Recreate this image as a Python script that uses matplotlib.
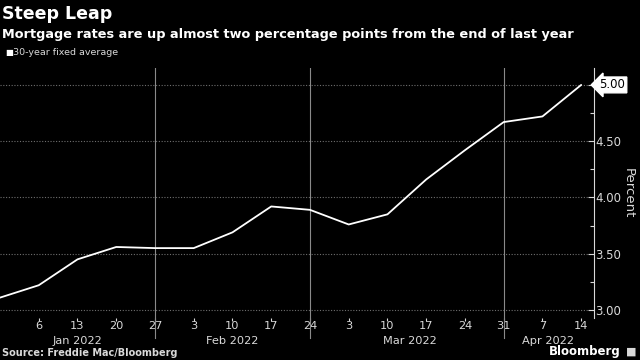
import matplotlib
matplotlib.use('Agg')
import matplotlib.pyplot as plt
import matplotlib.dates as mdates
import numpy as np
import datetime as dt

# weekly Freddie Mac 30-year fixed average
dates = ['2021-12-30', '2022-01-06', '2022-01-13', '2022-01-20', '2022-01-27',
         '2022-02-03', '2022-02-10', '2022-02-17', '2022-02-24', '2022-03-03',
         '2022-03-10', '2022-03-17', '2022-03-24', '2022-03-31', '2022-04-07',
         '2022-04-14']
rates = [3.11, 3.22, 3.45, 3.56, 3.55, 3.55, 3.69, 3.92, 3.89, 3.76, 3.85,
         4.16, 4.42, 4.67, 4.72, 5.00]
yticks = [3.00, 3.50, 4.00, 4.50, 5.00]
months = ['Jan 2022', 'Feb 2022', 'Mar 2022', 'Apr 2022']
month_centers = ['2022-01-13', '2022-02-10', '2022-03-14', '2022-04-08']
dividers = ['2022-01-27', '2022-02-24', '2022-03-31']

x = [dt.datetime.strptime(d, '%Y-%m-%d') for d in dates]
xn = mdates.date2num(x)

fg = '#d9d9d9'
grid = '#6e6e6e'

fig = plt.figure(figsize=(6.4, 3.6), dpi=100, facecolor='black')
ax = fig.add_axes([0.0, 0.117, 0.928, 0.694], facecolor='black')

ax.plot(xn, rates, color='white', lw=1.3, solid_capstyle='round')

ax.set_xlim(xn[0], xn[0] + 107.3)
ax.set_ylim(2.93, 5.15)

for s in ['top', 'left', 'bottom']:
    ax.spines[s].set_visible(False)
ax.spines['right'].set_color(fg)
ax.spines['right'].set_linewidth(0.8)

ax.yaxis.tick_right()
ax.set_yticks(yticks)
ax.set_yticklabels(['%.2f' % v for v in yticks])
ax.set_yticks(np.arange(3.25, 5.0, 0.5), minor=True)
ax.tick_params(axis='y', which='major', colors=fg, length=4, width=0.8,
               direction='in', pad=1, labelsize=8.5)
ax.tick_params(axis='y', which='minor', colors=fg, length=3, width=0.8,
               direction='in')
ax.get_yticklabels()[-1].set_visible(False)

for v in yticks:
    ax.axhline(v, color=grid, lw=0.8, ls=(0, (1, 1.5)), zorder=0)
for d in dividers:
    ax.axvline(mdates.datestr2num(d), color='#8a8a8a', lw=0.8, zorder=0)

# x ticks: weekly days
ax.set_xticks(xn[1:])
ax.set_xticklabels([str(d.day) for d in x[1:]])
ax.tick_params(axis='x', colors=fg, length=2, width=0.8, pad=0.5, labelsize=8.2)
for d in dividers:
    ax.plot([mdates.datestr2num(d)] * 2, [-0.08, 0], transform=ax.get_xaxis_transform(),
            color='#8a8a8a', lw=0.8, clip_on=False)
for m, c in zip(months, month_centers):
    ax.text(mdates.datestr2num(c), -0.072, m, transform=ax.get_xaxis_transform(),
            ha='center', va='top', color=fg, fontsize=8.2)

# last value tag
ax.annotate('%.2f' % rates[-1], xy=(1.0, rates[-1]), xycoords=('axes fraction', 'data'),
            xytext=(4, 0), textcoords='offset points', ha='left', va='center',
            color='black', fontsize=8.5,
            bbox=dict(boxstyle='larrow,pad=0.12', fc='white', ec='white'))

ax.text(1.047, 0.5, 'Percent', transform=ax.transAxes, rotation=-90,
        ha='left', va='center', color=fg, fontsize=9.5)

fig.text(0.003, 0.962, 'Steep Leap', color='white', fontsize=12.5,
         fontweight='bold', ha='left', va='center')
fig.text(0.003, 0.905, 'Mortgage rates are up almost two percentage points from the end of last year',
         color='white', fontsize=9.3, fontweight='bold', ha='left', va='center')
fig.text(0.008, 0.853, '\u25a0', color='white', fontsize=6, ha='left', va='center')
fig.text(0.021, 0.853, '30-year fixed average', color=fg, fontsize=6.8,
         ha='left', va='center')
fig.text(0.003, 0.006, 'Source: Freddie Mac/Bloomberg', color=fg, fontsize=7,
         fontweight='bold', ha='left', va='bottom')
fig.text(0.97, 0.006, 'Bloomberg', color='white', fontsize=8.5, fontweight='bold',
         ha='right', va='bottom')
fig.text(0.978, 0.008, '\u25a0', color=fg, fontsize=8, ha='left', va='bottom')

fig.savefig('out.png', dpi=100, facecolor='black')
